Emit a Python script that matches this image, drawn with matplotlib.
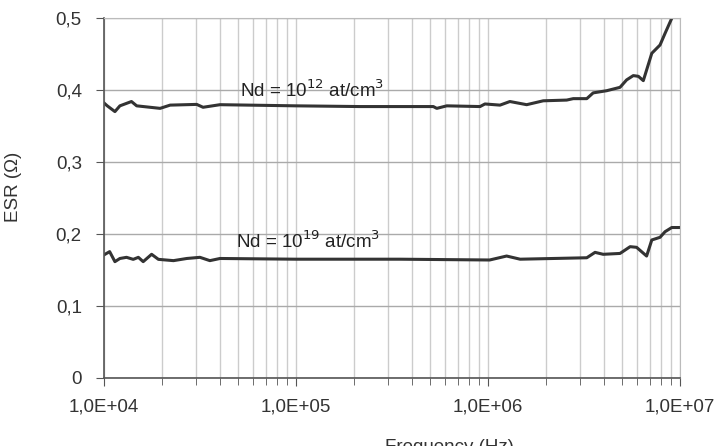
import math
import matplotlib
matplotlib.use("Agg")
import matplotlib.pyplot as plt
from matplotlib.ticker import FuncFormatter, LogLocator, NullFormatter

plt.rcParams['font.family'] = ['Liberation Sans', 'DejaVu Sans']

# Nd = 1e12 at/cm3 curve
freq_12 = [1.0e4, 1.04e4, 1.14e4, 1.21e4, 1.39e4, 1.48e4, 1.96e4, 2.21e4, 3.04e4, 3.28e4,
           4.02e4, 1.0e5, 2.15e5, 5.19e5, 5.41e5, 6.10e5, 9.09e5, 9.64e5, 1.155e6, 1.30e6,
           1.59e6, 1.94e6, 2.57e6, 2.78e6, 3.27e6, 3.53e6, 4.15e6, 4.87e6, 5.27e6, 5.71e6,
           6.07e6, 6.44e6, 7.13e6, 7.87e6, 8.36e6, 9.06e6]
esr_12 = [0.382, 0.378, 0.370, 0.378, 0.384, 0.378, 0.3745, 0.379, 0.380, 0.376,
          0.3796, 0.378, 0.377, 0.377, 0.3745, 0.378, 0.377, 0.3806, 0.379, 0.384,
          0.3796, 0.385, 0.386, 0.388, 0.388, 0.396, 0.399, 0.4037, 0.414, 0.420,
          0.419, 0.413, 0.451, 0.4625, 0.4787, 0.4996]

# Nd = 1e19 at/cm3 curve
freq_19 = [1.0e4, 1.07e4, 1.14e4, 1.21e4, 1.31e4, 1.42e4, 1.51e4, 1.60e4, 1.77e4, 1.92e4,
           2.30e4, 2.70e4, 3.16e4, 3.56e4, 4.02e4, 1.0e5, 3.48e5, 1.02e6, 1.25e6, 1.47e6,
           3.27e6, 3.61e6, 3.98e6, 4.87e6, 5.50e6, 5.94e6, 6.70e6, 7.13e6, 7.87e6, 8.36e6,
           9.06e6, 1.0e7]
esr_19 = [0.171, 0.1755, 0.1616, 0.166, 0.1676, 0.1648, 0.1676, 0.1616, 0.1718, 0.1648,
          0.163, 0.166, 0.1676, 0.163, 0.166, 0.165, 0.165, 0.1639, 0.1694, 0.165,
          0.167, 0.1745, 0.1718, 0.173, 0.1824, 0.1815, 0.1694, 0.1917, 0.1954, 0.2032,
          0.209, 0.209]

fig = plt.figure(figsize=(7.2, 4.46), dpi=100)
ax = fig.add_axes([104/720, 1 - 378/446, 576/720, 360/446])

ax.plot(freq_12, esr_12, color='#333333', lw=2.2)
ax.plot(freq_19, esr_19, color='#333333', lw=2.2)

ax.set_xscale('log')
ax.set_xlim(1e4, 1e7)
ax.set_ylim(0, 0.5)

ax.xaxis.set_major_locator(LogLocator(base=10))
ax.xaxis.set_minor_locator(LogLocator(base=10, subs=range(2, 10)))
ax.xaxis.set_minor_formatter(NullFormatter())
ax.xaxis.set_major_formatter(FuncFormatter(lambda v, p: '1,0E+%02d' % round(math.log10(v))))
ax.set_yticks([0, 0.1, 0.2, 0.3, 0.4, 0.5])
ax.yaxis.set_major_formatter(FuncFormatter(lambda v, p: '0' if v == 0 else ('%.1f' % v).replace('.', ',')))

ax.grid(True, which='both', axis='x', color='#cccccc', lw=1)
ax.grid(True, which='major', axis='y', color='#aaaaaa', lw=1)
ax.set_axisbelow(True)

for s in ['top', 'right']:
    ax.spines[s].set_color('#bbbbbb')
for s in ['left', 'bottom']:
    ax.spines[s].set_color('#555555')
    ax.spines[s].set_linewidth(1.2)

ax.tick_params(axis='both', which='major', direction='out', length=6, color='#555555',
               labelsize=13.5, labelcolor='#333333', pad=9)
ax.tick_params(axis='y', which='major', pad=10)
ax.tick_params(axis='x', which='minor', direction='out', length=5, color='#555555')

ax.text(5.1e4, 0.390, r'Nd = 10$^{12}$ at/cm$^{3}$', fontsize=13.5, color='#222222',
        va='baseline', ha='left')
ax.text(4.87e4, 0.181, r'Nd = 10$^{19}$ at/cm$^{3}$', fontsize=13.5, color='#222222',
        va='baseline', ha='left')

ax.set_ylabel('ESR (Ω)', fontsize=13.5, color='#333333')
ax.yaxis.set_label_coords(-0.143, 0.53)
ax.set_xlabel('Frequency (Hz)', fontsize=13.5, color='#333333')
ax.xaxis.set_label_coords(0.6, -0.17)

fig.savefig('out.png', dpi=100)
